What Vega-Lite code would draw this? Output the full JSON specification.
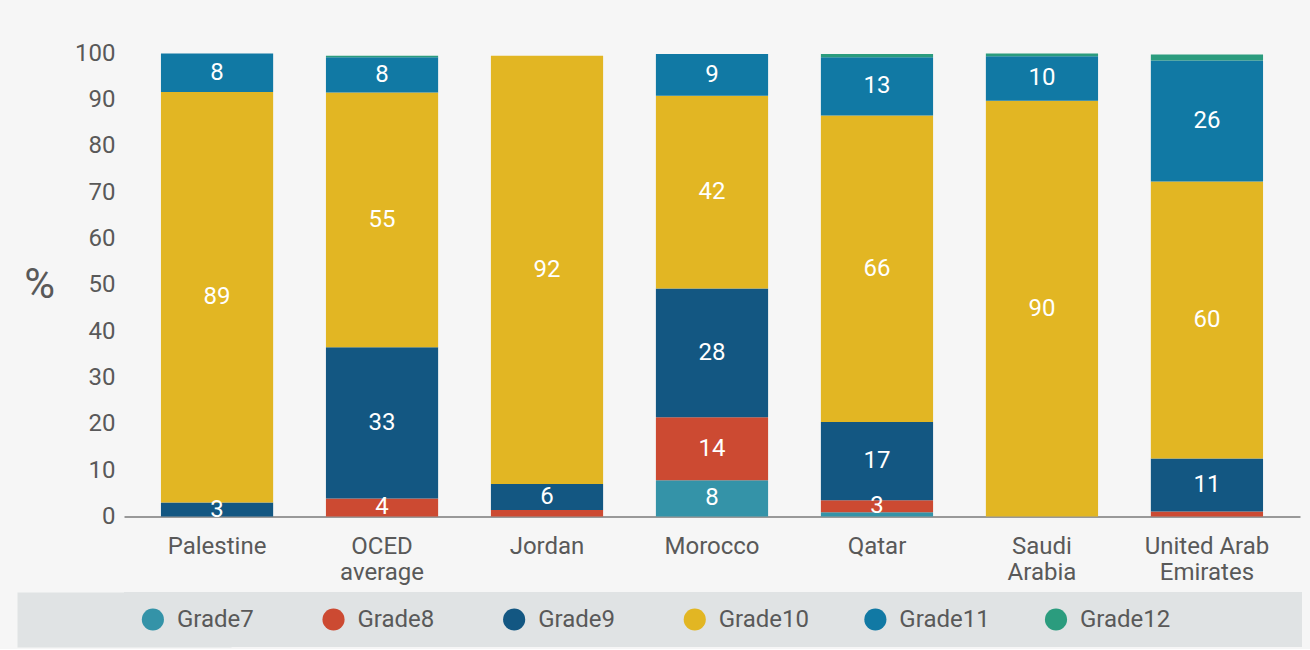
{
  "$schema": "https://vega.github.io/schema/vega-lite/v6.json",
  "background": "#f6f6f6",
  "padding": {"left": 23, "top": 41, "right": 8, "bottom": 2},
  "config": {"font": "Roboto", "view": {"stroke": null}},
  "data": {"values": [
    {"country": "Palestine", "grade": "Grade9", "g": 9, "value": 3.0},
    {"country": "Palestine", "grade": "Grade10", "g": 10, "value": 88.6},
    {"country": "Palestine", "grade": "Grade11", "g": 11, "value": 8.3},
    {"country": "OCED average", "grade": "Grade8", "g": 8, "value": 3.9},
    {"country": "OCED average", "grade": "Grade9", "g": 9, "value": 32.6},
    {"country": "OCED average", "grade": "Grade10", "g": 10, "value": 55.0},
    {"country": "OCED average", "grade": "Grade11", "g": 11, "value": 7.6},
    {"country": "OCED average", "grade": "Grade12", "g": 12, "value": 0.3},
    {"country": "Jordan", "grade": "Grade8", "g": 8, "value": 1.4},
    {"country": "Jordan", "grade": "Grade9", "g": 9, "value": 5.6},
    {"country": "Jordan", "grade": "Grade10", "g": 10, "value": 92.4},
    {"country": "Morocco", "grade": "Grade7", "g": 7, "value": 7.8},
    {"country": "Morocco", "grade": "Grade8", "g": 8, "value": 13.6},
    {"country": "Morocco", "grade": "Grade9", "g": 9, "value": 27.8},
    {"country": "Morocco", "grade": "Grade10", "g": 10, "value": 41.6},
    {"country": "Morocco", "grade": "Grade11", "g": 11, "value": 9.0},
    {"country": "Qatar", "grade": "Grade7", "g": 7, "value": 0.9},
    {"country": "Qatar", "grade": "Grade8", "g": 8, "value": 2.6},
    {"country": "Qatar", "grade": "Grade9", "g": 9, "value": 16.9},
    {"country": "Qatar", "grade": "Grade10", "g": 10, "value": 66.1},
    {"country": "Qatar", "grade": "Grade11", "g": 11, "value": 12.6},
    {"country": "Qatar", "grade": "Grade12", "g": 12, "value": 0.7},
    {"country": "Saudi Arabia", "grade": "Grade10", "g": 10, "value": 89.7},
    {"country": "Saudi Arabia", "grade": "Grade11", "g": 11, "value": 9.6},
    {"country": "Saudi Arabia", "grade": "Grade12", "g": 12, "value": 0.6},
    {"country": "United Arab Emirates", "grade": "Grade8", "g": 8, "value": 1.1},
    {"country": "United Arab Emirates", "grade": "Grade9", "g": 9, "value": 11.4},
    {"country": "United Arab Emirates", "grade": "Grade10", "g": 10, "value": 59.8},
    {"country": "United Arab Emirates", "grade": "Grade11", "g": 11, "value": 26.1},
    {"country": "United Arab Emirates", "grade": "Grade12", "g": 12, "value": 1.3}
  ]},
  "resolve": {"scale": {"x": "independent", "y": "independent"}},
  "spacing": 7,
  "vconcat": [
    {
      "width": 1176,
      "height": 463.5,
      "layer": [
        {
          "mark": {"type": "bar"},
          "encoding": {
            "x": {"field": "country", "type": "nominal",
              "sort": ["Palestine", "OCED average", "Jordan", "Morocco", "Qatar", "Saudi Arabia", "United Arab Emirates"],
              "scale": {"paddingInner": 0.32, "paddingOuter": 0.224},
              "axis": {"title": null, "labelAngle": 0, "labelFontSize": 24, "labelColor": "#595959", "labelPadding": 18, "ticks": false, "domainColor": "#999999", "domainWidth": 2, "labelLineHeight": 26, "labelBaseline": "top",
                "labelExpr": "datum.label == 'OCED average' ? ['OCED', 'average'] : datum.label == 'Saudi Arabia' ? ['Saudi', 'Arabia'] : datum.label == 'United Arab Emirates' ? ['United Arab', 'Emirates'] : datum.label"}},
            "y": {"field": "value", "type": "quantitative", "stack": "zero",
              "scale": {"domain": [0, 100], "nice": false},
              "axis": {"title": "%", "titleAngle": 0, "titleFontSize": 42, "titleFontWeight": "normal", "titleColor": "#595959", "titleAlign": "right", "titleBaseline": "middle", "titlePadding": 20,
                "labelFontSize": 24, "labelColor": "#595959", "labelPadding": 9, "ticks": false, "domain": false, "grid": false,
                "values": [0, 10, 20, 30, 40, 50, 60, 70, 80, 90, 100]}},
            "color": {"field": "grade", "type": "nominal",
              "scale": {"domain": ["Grade7", "Grade8", "Grade9", "Grade10", "Grade11", "Grade12"],
                "range": ["#3493a8", "#cc4a32", "#135782", "#e2b623", "#1179a4", "#2b9c7e"]},
              "legend": null},
            "order": {"field": "g", "type": "quantitative", "sort": "ascending"}
          }
        },
        {
          "transform": [
            {"stack": "value", "groupby": ["country"], "sort": [{"field": "g", "order": "ascending"}], "as": ["v0", "v1"]},
            {"filter": "datum.value >= 2.4"},
            {"calculate": "(datum.v0 + datum.v1) / 2", "as": "mid"}
          ],
          "mark": {"type": "text", "color": "white", "fontSize": 24, "baseline": "middle"},
          "encoding": {
            "x": {"field": "country", "type": "nominal",
              "sort": ["Palestine", "OCED average", "Jordan", "Morocco", "Qatar", "Saudi Arabia", "United Arab Emirates"]},
            "y": {"field": "mid", "type": "quantitative"},
            "text": {"field": "value", "type": "quantitative", "format": ".0f"}
          }
        }
      ]
    },
    {
      "width": 1178,
      "height": 55,
      "view": {"fill": "#e0e3e4", "stroke": null},
      "transform": [{"aggregate": [{"op": "min", "field": "g", "as": "g"}], "groupby": ["grade"]}],
      "encoding": {
        "x": {"field": "grade", "type": "nominal",
          "sort": ["Grade7", "Grade8", "Grade9", "Grade10", "Grade11", "Grade12"],
          "scale": {"type": "point", "padding": 0.761, "align": 0.287}, "axis": null},
        "y": {"datum": 0, "type": "quantitative", "scale": {"domain": [-1, 1]},
          "axis": {"title": null, "labels": false, "ticks": false, "grid": false, "domain": true, "domainColor": "#e0e3e4", "domainWidth": 214, "domainCap": "butt"}}
      },
      "layer": [
        {
          "mark": {"type": "point", "filled": true, "opacity": 1, "size": 490, "xOffset": -50},
          "encoding": {
            "color": {"field": "grade", "type": "nominal",
              "scale": {"domain": ["Grade7", "Grade8", "Grade9", "Grade10", "Grade11", "Grade12"],
                "range": ["#3493a8", "#cc4a32", "#135782", "#e2b623", "#1179a4", "#2b9c7e"]},
              "legend": null}
          }
        },
        {
          "mark": {"type": "text", "align": "left", "baseline": "middle", "dx": -26, "fontSize": 24, "color": "#595959"},
          "encoding": {
            "text": {"field": "grade"}
          }
        }
      ]
    }
  ]
}
